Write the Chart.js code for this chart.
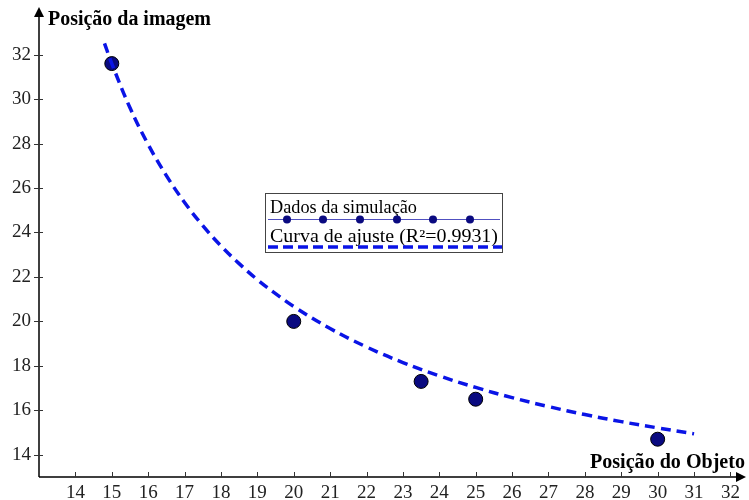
<!DOCTYPE html>
<html><head><meta charset="utf-8">
<script src="https://cdn.jsdelivr.net/npm/chart.js@4"></script>
<style>html,body{margin:0;padding:0;background:#fff}#wrap{width:749px;height:500px;position:relative}</style>
</head><body><div id="wrap"><canvas id="c" width="749" height="500"></canvas></div>
<script>
const objectPos = [15, 20, 23.5, 25, 30];
const imagePos = [31.6, 20.0, 17.3, 16.5, 14.7];
const fitX = [14.8, 15, 15.5, 16, 16.5, 17, 17.5, 18, 18.5, 19, 19.5, 20, 21, 22, 23, 24, 25, 26, 27, 28, 29, 30, 31];
const fitY = [32.51, 31.60, 29.61, 27.96, 26.56, 25.35, 24.31, 23.40, 22.60, 21.88, 21.25, 20.67, 19.68, 18.85, 18.15, 17.55, 17.03, 16.57, 16.17, 15.81, 15.49, 15.21, 14.94];
const xTicks = [14,15,16,17,18,19,20,21,22,23,24,25,26,27,28,29,30,31,32];
const yTicks = [14,16,18,20,22,24,26,28,30,32];
const xTitle = "Posição do Objeto";
const yTitle = "Posição da imagem";
const legendData = "Dados da simulação";
const legendFit = "Curva de ajuste (R²=0.9931)";

const serif = '"Liberation Serif", "DejaVu Serif", serif';
const blue = '#0a14e6';
const navy = '#0a0a80';

function fitText(ctx, text, x, y, w) {
  const m = ctx.measureText(text).width;
  ctx.save();
  ctx.translate(x, y);
  ctx.scale(w / m, 1);
  ctx.fillText(text, 0, 0);
  ctx.restore();
}

const axesPlugin = {
  id: 'axesPlugin',
  afterDraw(chart) {
    const ctx = chart.ctx, a = chart.chartArea;
    const xs = chart.scales.x, ys = chart.scales.y;
    ctx.save();
    ctx.strokeStyle = '#000'; ctx.fillStyle = '#000'; ctx.lineWidth = 1.5;
    ctx.beginPath();
    ctx.moveTo(a.left, a.bottom); ctx.lineTo(a.left, a.top + 2);
    ctx.moveTo(a.left, a.bottom); ctx.lineTo(a.right - 2, a.bottom);
    ctx.stroke();
    ctx.beginPath();
    ctx.moveTo(a.left, a.top - 1); ctx.lineTo(a.left - 5, a.top + 9); ctx.lineTo(a.left + 5, a.top + 9); ctx.closePath(); ctx.fill();
    ctx.beginPath();
    ctx.moveTo(a.right + 1, a.bottom); ctx.lineTo(a.right - 9, a.bottom - 5); ctx.lineTo(a.right - 9, a.bottom + 5); ctx.closePath(); ctx.fill();
    ctx.lineWidth = 1;
    ctx.strokeStyle = '#333';
    ctx.beginPath();
    yTicks.forEach(v => { const y = Math.round(ys.getPixelForValue(v)) + 0.5; ctx.moveTo(a.left - 5, y); ctx.lineTo(a.left + 4, y); });
    xTicks.forEach(v => { const x = Math.round(xs.getPixelForValue(v)) + 0.5; ctx.moveTo(x, a.bottom - 5); ctx.lineTo(x, a.bottom); });
    ctx.stroke();
    ctx.fillStyle = '#000';
    ctx.font = 'bold 20px ' + serif;
    ctx.textBaseline = 'alphabetic';
    ctx.textAlign = 'left';
    fitText(ctx, yTitle, a.left + 9, 25, 163);
    fitText(ctx, xTitle, a.right - 155, a.bottom - 9, 155);
    // legend
    const lx = 265, ly = 193, lw = 237, lh = 59;
    ctx.fillStyle = '#fff';
    ctx.fillRect(lx, ly, lw, lh);
    ctx.strokeStyle = '#444'; ctx.lineWidth = 1;
    ctx.strokeRect(lx + 0.5, ly + 0.5, lw, lh);
    ctx.fillStyle = '#000';
    ctx.font = '18.5px ' + serif;
    fitText(ctx, legendData, lx + 5, ly + 20, 147);
    fitText(ctx, legendFit, lx + 5, ly + 49, 228);
    ctx.strokeStyle = '#5050c0'; ctx.lineWidth = 1;
    ctx.beginPath(); ctx.moveTo(lx + 3, ly + 26.5); ctx.lineTo(lx + lw - 2, ly + 26.5); ctx.stroke();
    ctx.fillStyle = navy;
    [22, 58, 95, 132, 168, 205].forEach(dx => { ctx.beginPath(); ctx.arc(lx + dx, ly + 26.5, 4, 0, Math.PI * 2); ctx.fill(); });
    ctx.strokeStyle = blue; ctx.lineWidth = 3.5; ctx.setLineDash([10, 5]);
    ctx.beginPath(); ctx.moveTo(lx + 3, ly + 54); ctx.lineTo(lx + lw, ly + 54); ctx.stroke();
    ctx.restore();
  }
};

new Chart(document.getElementById('c'), {
  type: 'scatter',
  data: {
    datasets: [
      {
        label: legendFit,
        data: fitX.map((x, i) => ({x, y: fitY[i]})),
        showLine: true, pointRadius: 0, borderColor: blue, borderWidth: 3.5,
        borderDash: [10, 6], tension: 0.4, fill: false, order: 0
      },
      {
        label: legendData,
        data: objectPos.map((x, i) => ({x, y: imagePos[i]})),
        pointRadius: 7, pointBackgroundColor: navy, pointBorderColor: '#000',
        pointBorderWidth: 1, showLine: false, order: 1
      }
    ]
  },
  options: {
    responsive: false, animation: false,
    layout: {autoPadding: false, padding: {top: 8, right: 4, left: 0, bottom: 0}},
    plugins: {legend: {display: false}, tooltip: {enabled: false}},
    scales: {
      x: {
        type: 'linear', min: 13, max: 32.4,
        grid: {display: false, drawTicks: false}, border: {display: false},
        afterBuildTicks: s => { s.ticks = xTicks.map(v => ({value: v})); },
        afterFit: s => { s.height = 23; s.paddingLeft = 0; s.paddingRight = 0; },
        ticks: {padding: 5, color: '#222', font: {family: serif, size: 19}, maxRotation: 0, autoSkip: false}
      },
      y: {
        type: 'linear', min: 13, max: 34.1,
        grid: {display: false, drawTicks: false}, border: {display: false},
        afterBuildTicks: s => { s.ticks = yTicks.map(v => ({value: v})); },
        afterFit: s => { s.width = 39; s.paddingTop = 0; s.paddingBottom = 0; },
        ticks: {padding: 8, color: '#222', font: {family: serif, size: 19}, autoSkip: false}
      }
    }
  },
  plugins: [axesPlugin]
});
</script></body></html>
